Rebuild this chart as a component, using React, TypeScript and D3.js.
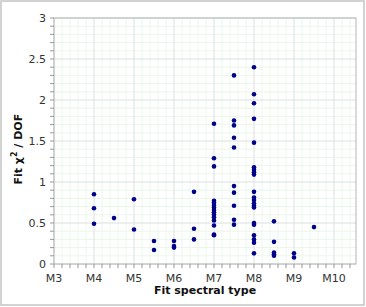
import React from "react";
import * as d3 from "d3";

// spectral type (M subclass) and fit chi2/DOF for each object
const spType = [
  4, 4, 4, 4.5, 5, 5, 5.5, 5.5, 6, 6, 6,
  6.5, 6.5, 6.5,
  7, 7, 7, 7, 7, 7, 7, 7, 7, 7, 7, 7, 7, 7, 7,
  7.5, 7.5, 7.5, 7.5, 7.5, 7.5, 7.5, 7.5, 7.5, 7.5,
  8, 8, 8, 8, 8, 8, 8, 8, 8, 8, 8, 8, 8, 8, 8, 8, 8, 8, 8, 8, 8,
  8.5, 8.5, 8.5, 8.5, 8.5, 9, 9, 9.5,
];
const chi2 = [
  0.85, 0.68, 0.49, 0.56, 0.79, 0.42, 0.28, 0.17, 0.28, 0.22, 0.2,
  0.88, 0.43, 0.3,
  1.71, 1.29, 1.19, 0.77, 0.75, 0.72, 0.69, 0.66, 0.63, 0.6, 0.57, 0.53, 0.47, 0.36, 0.35,
  2.3, 1.75, 1.69, 1.54, 1.42, 0.95, 0.87, 0.71, 0.54, 0.48,
  2.4, 2.07, 1.96, 1.77, 1.48, 1.18, 1.15, 1.12, 1.09, 0.88, 0.81, 0.78, 0.74, 0.71, 0.69, 0.5, 0.48, 0.35, 0.3, 0.26, 0.13,
  0.52, 0.27, 0.14, 0.12, 0.1, 0.13, 0.08, 0.45,
];
const xTicks = [3, 4, 5, 6, 7, 8, 9, 10];
const yTicks = [0, 0.5, 1, 1.5, 2, 2.5, 3];

const W = 366, H = 307;
const margin = { top: 18, right: 10, bottom: 43, left: 54 };

export default function App() {
  const x = d3.scaleLinear().domain([3, 10.55]).range([margin.left, W - margin.right]);
  const y = d3.scaleLinear().domain([0, 3]).range([H - margin.bottom, margin.top]);
  const xMinor = d3.range(3, 10.55, 0.2);
  const yMinor = d3.range(0, 3.001, 0.1);
  const pts = spType.map((s, i) => ({ s, v: chi2[i] }));
  const font = "Verdana, 'DejaVu Sans', sans-serif";

  return (
    <svg width={W} height={H} style={{ position: "absolute", left: 0, top: 0 }} fontFamily={font}>
      <rect x={1} y={1} width={W - 3} height={H - 3} fill="#fff" stroke="#c4c4c4" strokeWidth={1.5} />
      {/* minor grid */}
      {xMinor.map((t, i) => (
        <line key={"xm" + i} x1={x(t)} x2={x(t)} y1={y(0)} y2={y(3)} stroke="#eaf6ea" />
      ))}
      {yMinor.map((t, i) => (
        <line key={"ym" + i} x1={x(3)} x2={x(10.55)} y1={y(t)} y2={y(t)} stroke="#eaf6ea" />
      ))}
      {/* major grid */}
      {xTicks.map((t) => (
        <line key={"xg" + t} x1={x(t)} x2={x(t)} y1={y(0)} y2={y(3)} stroke="#e4e4e8" />
      ))}
      {yTicks.map((t) => (
        <line key={"yg" + t} x1={x(3)} x2={x(10.55)} y1={y(t)} y2={y(t)} stroke="#e4e4e8" />
      ))}
      <rect x={x(3)} y={y(3)} width={x(10.55) - x(3)} height={y(0) - y(3)} fill="none" stroke="#b4b4b4" />
      {/* ticks */}
      {xMinor.map((t, i) => (
        <line key={"xt" + i} x1={x(t)} x2={x(t)} y1={y(0)} y2={y(0) + 4} stroke="#999" />
      ))}
      {yMinor.map((t, i) => (
        <line key={"yt" + i} x1={x(3) - 4} x2={x(3)} y1={y(t)} y2={y(t)} stroke="#999" />
      ))}
      {xTicks.map((t) => (
        <text key={"xl" + t} x={x(t)} y={y(0) + 18} textAnchor="middle" fontSize={11} fill="#333">
          {"M" + t}
        </text>
      ))}
      {yTicks.map((t) => (
        <text key={"yl" + t} x={x(3) - 8} y={y(t) + 4} textAnchor="end" fontSize={11} fill="#333">
          {t}
        </text>
      ))}
      {pts.map((p, i) => (
        <circle key={"p" + i} cx={x(p.s)} cy={y(p.v)} r={2.3} fill="#00008b" />
      ))}
      <text x={(x(3) + x(10.55)) / 2} y={H - 13} textAnchor="middle" fontSize={11} fontWeight="bold" fill="#111">
        Fit spectral type
      </text>
      <text transform={`translate(22,${y(1.4)}) rotate(-90)`} textAnchor="middle" fontSize={11} fontWeight="bold" fill="#111">
        Fit χ<tspan dy={-5} fontSize={8}>2</tspan><tspan dy={5}> / DOF</tspan>
      </text>
    </svg>
  );
}
